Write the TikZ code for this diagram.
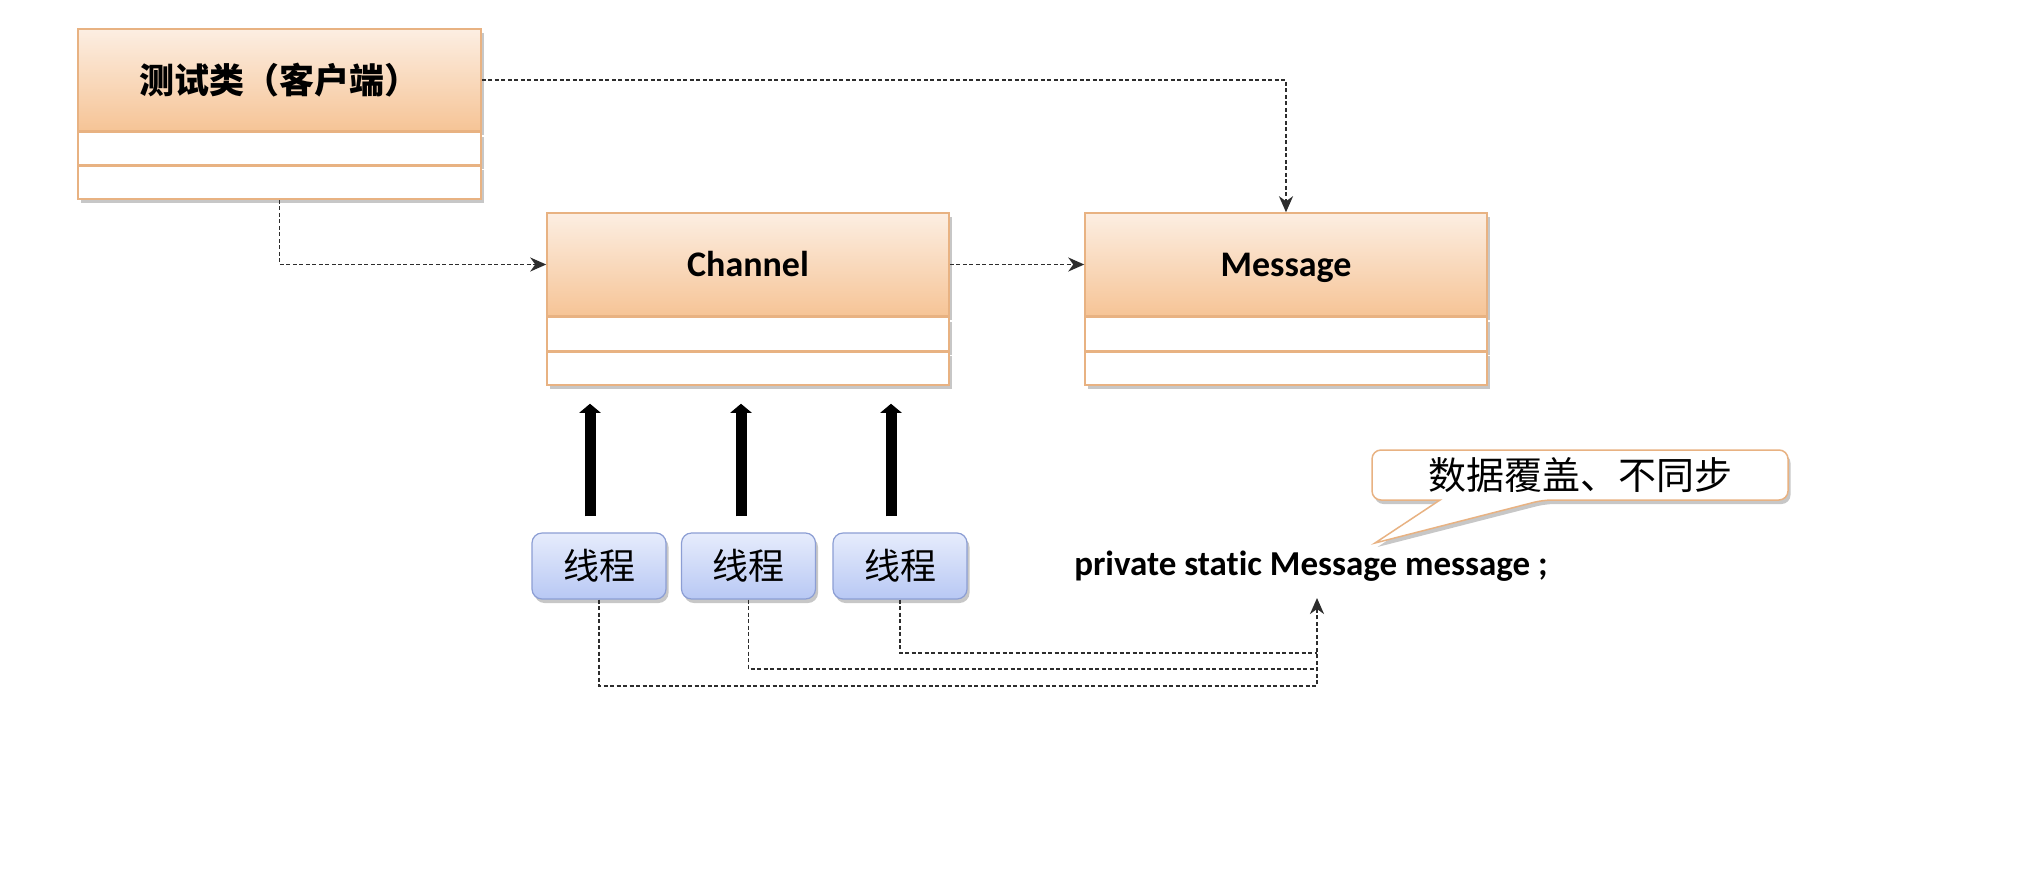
\documentclass[tikz,border=0pt]{standalone}
\usepackage{fontspec}
\setmainfont{Carlito}[Ligatures={NoCommon}]
\newfontfamily\cjk{Noto Sans CJK SC}
\usetikzlibrary{arrows.meta,shadows}
\definecolor{hdtop}{RGB}{252,238,226}
\definecolor{hdbot}{RGB}{246,196,150}
\definecolor{hdline}{RGB}{232,178,130}
\definecolor{thtop}{RGB}{230,236,252}
\definecolor{thbot}{RGB}{184,200,244}
\definecolor{thline}{RGB}{140,158,212}
\definecolor{dashc}{RGB}{45,45,45}
\begin{document}
\begin{tikzpicture}[x=1pt,y=-1pt,
  shad/.style={drop shadow={shadow xshift=2.5pt,shadow yshift=-4pt,opacity=0.22,fill=black}},
  hdr/.style={draw=hdline,line width=1.5pt,top color=hdtop,bottom color=hdbot,
    minimum width=402pt,minimum height=103pt,inner sep=0pt,shad,
    text height=24pt,text depth=0pt,
    font=\fontsize{36}{40}\selectfont\bfseries},
  row/.style={draw=hdline,line width=1.5pt,fill=white,minimum width=402pt,
    minimum height=33pt,inner sep=0pt,shad},
  thread/.style={draw=thline,line width=1.2pt,rounded corners=10pt,top color=thtop,
    bottom color=thbot,minimum width=134pt,minimum height=66pt,inner sep=0pt,shad,
    font=\cjk\fontsize{36}{40}\selectfont},
  link/.style={dashc,line width=1.8pt,dash pattern=on 4pt off 2.5pt},
  dep/.style={link,-{Stealth[length=16pt,width=14pt,inset=5pt]}},
  fat/.style={line width=11pt,-{Triangle[length=9pt,width=21pt]}},
]
\fill[white] (0,0) rectangle (2026,892);
\useasboundingbox (0,0) rectangle (2026,892);

% client class
\node[hdr,minimum width=403pt,minimum height=102pt,text height=28pt,text depth=2pt] (client) at (279.5,80)
  {\cjk\fontsize{35}{40}\selectfont\bfseries 测试类（客户端）};
\node[row,minimum width=403pt,minimum height=32pt,anchor=north] (clientA) at (client.south) {};
\node[row,minimum width=403pt,anchor=north] (clientB) at (clientA.south) {};

% Channel class
\node[hdr] (chan) at (748,264.5) {Channel};
\node[row,anchor=north] (chanA) at (chan.south) {};
\node[row,anchor=north] (chanB) at (chanA.south) {};

% Message class
\node[hdr] (msg) at (1286,264.5) {Message};
\node[row,anchor=north] (msgA) at (msg.south) {};
\node[row,anchor=north] (msgB) at (msgA.south) {};

% threads
\node[thread] (t1) at (599,566) {线程};
\node[thread] (t2) at (748.5,566) {线程};
\node[thread] (t3) at (900,566) {线程};

% field text
\node[font=\fontsize{35}{40}\selectfont\bfseries,inner sep=0pt,anchor=base] (field)
  at (1311,575) {private static Message message ;};

% callout
\path[draw=hdline,fill=white,line width=1.5pt,shad,rounded corners=9pt]
  (1372,450) -- (1788,450) -- (1788,500) -- (1543,500) [sharp corners]
  -- (1375,543) -- (1440,500) [rounded corners=9pt] -- (1372,500) -- cycle;
\node[font=\cjk\fontsize{38}{40}\selectfont] (note) at (1580,475) {数据覆盖、不同步};

% dependencies
\draw[dep] (client.east) -- (msg.north |- client.east) -- (msg.north);
\draw[dep] (clientB.south) -- (clientB.south |- chan.west) -- (chan.west);
\draw[dep] (chan.east) -- (msg.west);

% thick arrows threads -> Channel
\draw[fat] ([xshift=-9pt,yshift=16pt]t1.north) -- ([xshift=-9pt,yshift=-18pt]t1.north |- chanB.south);
\draw[fat] ([xshift=-7.5pt,yshift=16pt]t2.north) -- ([xshift=-7.5pt,yshift=-18pt]t2.north |- chanB.south);
\draw[fat] ([xshift=-9pt,yshift=16pt]t3.north) -- ([xshift=-9pt,yshift=-18pt]t3.north |- chanB.south);

% thread -> field
\coordinate (tgt) at (1317,598);
\coordinate (j1) at (1317,686);
\coordinate (j2) at (1317,669);
\coordinate (j3) at (1317,653);
\draw[link] (t2.south) |- (j2);
\draw[link] (t3.south) |- (j3);
\draw[dep] (t1.south) |- (j1) -- (tgt);
\end{tikzpicture}
\end{document}
